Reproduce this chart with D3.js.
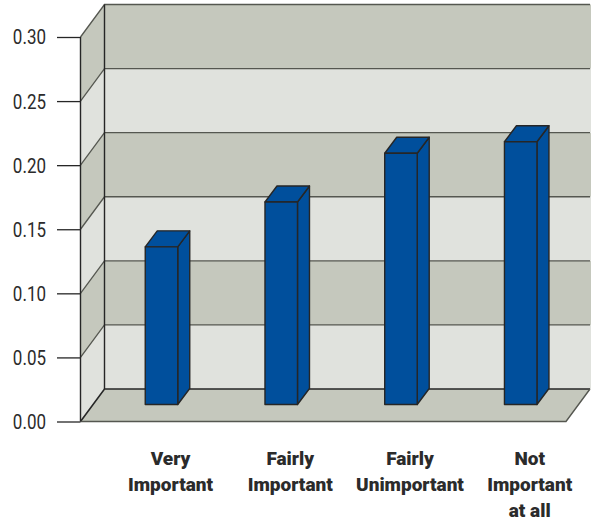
<!DOCTYPE html>
<html>
<head>
<meta charset="utf-8">
<script src="https://cdn.jsdelivr.net/npm/d3@7"></script>
<style>
  html, body { margin: 0; padding: 0; background: #fff; }
  svg { display: block; }
  text { font-family: "Roboto", "Liberation Sans", sans-serif; fill: #2b2b2b; }
</style>
</head>
<body>
<svg id="chart" width="591" height="523"></svg>
<script>
const categories = ["Very Important", "Fairly Important", "Fairly Unimportant", "Not Important at all"];
const labelLines = [["Very", "Important"], ["Fairly", "Important"], ["Fairly", "Unimportant"], ["Not", "Important", "at all"]];
const values = [0.123, 0.158, 0.196, 0.205];
const tickValues = [0, 0.05, 0.10, 0.15, 0.20, 0.25, 0.30];

const bandDark = "#c5c8bd", bandLight = "#e0e2dd", barBlue = "#004f9c", edge = "#262626", rule = "#555750";

// Box geometry: the plot is a room seen from the front-left, with a depth offset.
const frontLeft = 80.5, frontRight = 566, depthX = 24, depthY = -32.5;
const barWidth = 32.5, barDepthX = 12, barDepthY = -16;

const y = d3.scaleLinear().domain([0, 0.30]).range([421.5, 37]);
const x = d3.scalePoint().domain(categories).range([161.5, 520.7]);

const svg = d3.select("#chart");
const poly = pts => pts.map(p => p.join(",")).join(" ");

// Bands on the side wall and the back wall
const bands = d3.pairs(tickValues).map(([lo, hi], i) => ({ lo, hi, fill: i % 2 === 0 ? bandLight : bandDark }));

svg.append("g").selectAll("polygon").data(bands).join("polygon")
  .attr("points", d => poly([
    [frontLeft, y(d.lo)], [frontLeft + depthX, y(d.lo) + depthY],
    [frontLeft + depthX, y(d.hi) + depthY], [frontLeft, y(d.hi)]
  ]))
  .attr("fill", d => d.fill)
  .attr("stroke", "none");

svg.append("g").selectAll("rect").data(bands).join("rect")
  .attr("x", frontLeft + depthX)
  .attr("width", 591 - frontLeft - depthX)
  .attr("y", d => y(d.hi) + depthY)
  .attr("height", d => y(d.lo) - y(d.hi))
  .attr("fill", d => d.fill);

// Floor
svg.append("polygon")
  .attr("points", poly([
    [frontLeft, y(0)], [frontLeft + depthX, y(0) + depthY],
    [frontRight + depthX, y(0) + depthY], [frontRight, y(0)]
  ]))
  .attr("fill", bandDark);

// Grid rules across the back wall and slanting down the side wall
const grid = svg.append("g").attr("fill", "none");
grid.selectAll("path").data(tickValues).join("path")
  .attr("d", d => `M${frontLeft},${y(d)}L${frontLeft + depthX},${y(d) + depthY}L${frontRight + depthX},${y(d) + depthY}`)
  .attr("stroke", d => d === 0 ? edge : rule)
  .attr("stroke-width", d => d === 0 ? 1.6 : 1.3);

// Front floor edge and right floor edge
svg.append("path")
  .attr("d", `M${frontLeft},${y(0)}L${frontRight},${y(0)}L${frontRight + depthX},${y(0) + depthY}`)
  .attr("fill", "none").attr("stroke", rule).attr("stroke-width", 1.4);

// Verticals of the room
svg.append("path")
  .attr("d", `M${frontLeft},${y(0)}V${y(0.30)}M${frontLeft + depthX},${y(0) + depthY}V${y(0.30) + depthY}`)
  .attr("fill", "none").attr("stroke", edge).attr("stroke-width", 1.4);

// Value axis; the labels are squeezed horizontally for a condensed look
const axisG = svg.append("g").attr("transform", `translate(${frontLeft},0)`)
  .call(d3.axisLeft(y).tickValues(tickValues).tickSize(23.5).tickPadding(0).tickFormat(d3.format(".2f")));
axisG.select(".domain").remove();
axisG.selectAll(".tick line").attr("stroke", edge).attr("stroke-width", 1.3);
axisG.selectAll(".tick text")
  .attr("x", null)
  .attr("dy", null)
  .attr("font-size", 20)
  .attr("font-weight", 400)
  .attr("dominant-baseline", "central")
  .attr("transform", "translate(-34.5,0.5) scale(0.85,1)");
axisG.attr("font-family", null);

// Bars: front face, side face, top face
const baseY = y(0) - 17;
const bars = svg.append("g").selectAll("g").data(categories).join("g");
const left = d => x(d) - barWidth / 2;
const right = d => x(d) + barWidth / 2;
const topY = (d, i) => baseY - (y(0) - y(values[i]));

bars.append("polygon")
  .attr("points", (d, i) => poly([
    [right(d), baseY], [right(d) + barDepthX, baseY + barDepthY],
    [right(d) + barDepthX, topY(d, i) + barDepthY], [right(d), topY(d, i)]
  ]));
bars.append("polygon")
  .attr("points", (d, i) => poly([
    [left(d), topY(d, i)], [left(d) + barDepthX, topY(d, i) + barDepthY],
    [right(d) + barDepthX, topY(d, i) + barDepthY], [right(d), topY(d, i)]
  ]));
bars.append("rect")
  .attr("x", left)
  .attr("width", barWidth)
  .attr("y", topY)
  .attr("height", (d, i) => baseY - topY(d, i));
bars.selectAll("polygon, rect")
  .attr("fill", barBlue).attr("stroke", edge).attr("stroke-width", 1.4).attr("stroke-linejoin", "round");

// Category labels, stacked line by line
const labels = svg.append("g").selectAll("text").data(categories).join("text")
  .attr("text-anchor", "middle")
  .attr("font-size", 19)
  .attr("font-weight", 900);
labels.each(function (d, i) {
  const cx = x(d) + 9;
  d3.select(this)
    .attr("transform", `translate(${cx},0)`)
    .selectAll("tspan").data(labelLines[i]).join("tspan")
    .attr("x", 0)
    .attr("y", (t, j) => 464.5 + j * 26)
    .text(t => t);
});
</script>
</body>
</html>
